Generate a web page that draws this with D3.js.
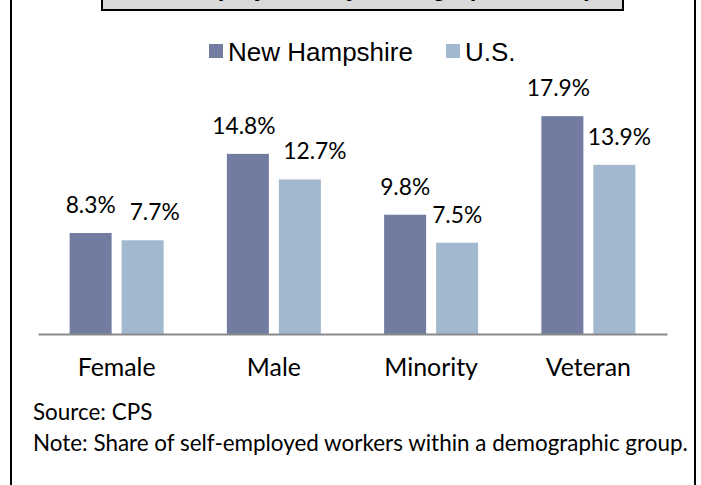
<!DOCTYPE html>
<html>
<head>
<meta charset="utf-8">
<script src="https://cdn.jsdelivr.net/npm/d3@7"></script>
<style>
  html, body { margin: 0; padding: 0; background: #fff; }
  svg { display: block; }
</style>
</head>
<body>
<svg id="chart" width="701" height="485"></svg>
<script>
// ---- data ----
const categories = ["Female", "Male", "Minority", "Veteran"];
const seriesNames = ["New Hampshire", "U.S."];
const newHampshire = [8.3, 14.8, 9.8, 17.9];
const us = [7.7, 12.7, 7.5, 13.9];
const titleText = "Self-Employment by Demographic Group";
const sourceText = "Source: CPS";
const noteText = "Note: Share of self-employed workers within a demographic group.";

// ---- layout ----
const W = 701, H = 485;
const colors = { "New Hampshire": "#727ba0", "U.S.": "#a2b8ce" };
const bodyFont = "Lato, 'Open Sans', sans-serif";
const legendFont = "'Liberation Sans', Arial, sans-serif";
// hand-placed label nudges (px) as in the original, per category: [NH, US]
const labelNudge = [[0, 12], [-4, 15], [0, 0], [-4, 5]];

const svg = d3.select("#chart");

function fitWidth(sel, target) {
  const fs = parseFloat(sel.attr("font-size"));
  const w = sel.node().getComputedTextLength();
  sel.attr("font-size", (fs * target / w).toFixed(2));
  return fs * target / w;
}

// outer frame
svg.append("rect")
  .attr("x", 11).attr("y", -20).attr("width", 684).attr("height", 530)
  .attr("fill", "#fff").attr("stroke", "#000").attr("stroke-width", 2);

// title box (mostly above the visible area)
svg.append("rect")
  .attr("x", 102).attr("y", -40).attr("width", 521).attr("height", 50)
  .attr("fill", "#d9d9d9").attr("stroke", "#000").attr("stroke-width", 2);
svg.append("text")
  .attr("x", 363).attr("y", -4)
  .attr("text-anchor", "middle")
  .attr("font-family", legendFont).attr("font-weight", "bold")
  .attr("font-size", 24).attr("fill", "#000")
  .text(titleText);

// scales
const axisY = 334;
const x0 = d3.scaleBand().domain(categories).range([38, 667]).padding(0);
const groupW = 94;
const x1 = d3.scaleBand().domain(seriesNames).range([0, groupW]).paddingInner(10 / 52).paddingOuter(0);
const y = d3.scaleLinear().domain([0, 20]).range([axisY, axisY - 243.4]);

const rows = categories.map((c, i) => ({
  cat: c,
  vals: [
    { s: "New Hampshire", v: newHampshire[i], dx: labelNudge[i][0] },
    { s: "U.S.", v: us[i], dx: labelNudge[i][1] }
  ]
}));

const groups = svg.append("g").selectAll("g")
  .data(rows).join("g")
  .attr("transform", d => `translate(${x0(d.cat) + (x0.bandwidth() - groupW) / 2},0)`);

groups.selectAll("rect")
  .data(d => d.vals).join("rect")
  .attr("x", d => x1(d.s))
  .attr("y", d => y(d.v))
  .attr("width", x1.bandwidth())
  .attr("height", d => axisY - y(d.v))
  .attr("fill", d => colors[d.s]);

const valLabels = groups.selectAll("text.val")
  .data(d => d.vals).join("text")
  .attr("class", "val")
  .attr("x", d => x1(d.s) + x1.bandwidth() / 2 + d.dx)
  .attr("y", d => y(d.v) - 20)
  .attr("text-anchor", "middle")
  .attr("font-family", bodyFont)
  .attr("font-size", 22)
  .attr("fill", "#000")
  .text(d => d.v.toFixed(1) + "%");
const vfs = fitWidth(d3.select(valLabels.nodes()[0]), 50);
valLabels.attr("font-size", vfs.toFixed(2));

// axis
const axis = svg.append("g")
  .attr("transform", `translate(0,${axisY})`)
  .call(d3.axisBottom(x0).tickSize(0).tickSizeOuter(0).tickPadding(0));
axis.select(".domain").attr("stroke", "#8a8a8a").attr("stroke-width", 2);
const catText = axis.selectAll(".tick text")
  .attr("y", 42).attr("dy", 0)
  .attr("font-family", bodyFont)
  .attr("font-size", 23)
  .attr("fill", "#000");
const cfs = fitWidth(d3.select(catText.nodes()[0]), 78);
catText.attr("font-size", cfs.toFixed(2));

// legend
const legendItems = [
  { s: "New Hampshire", x: 209 },
  { s: "U.S.", x: 446 }
];
const lg = svg.append("g").selectAll("g").data(legendItems).join("g")
  .attr("transform", d => `translate(${d.x},0)`);
lg.append("rect")
  .attr("x", 0).attr("y", 44).attr("width", 14).attr("height", 14)
  .attr("fill", d => colors[d.s]);
const lgText = lg.append("text")
  .attr("x", 19).attr("y", 61)
  .attr("font-family", legendFont)
  .attr("font-size", 26)
  .attr("fill", "#000")
  .text(d => d.s);
const lfs = fitWidth(d3.select(lgText.nodes()[0]), 185);
lgText.attr("font-size", lfs.toFixed(2));

// source / note
const src = svg.append("text")
  .attr("x", 33).attr("y", 420)
  .attr("font-family", bodyFont).attr("font-size", 19).attr("fill", "#000")
  .text(sourceText);
const note = svg.append("text")
  .attr("x", 33).attr("y", 451)
  .attr("font-family", bodyFont).attr("font-size", 19).attr("fill", "#000")
  .text(noteText);
const nfs = fitWidth(note, 655);
src.attr("font-size", nfs.toFixed(2));
</script>
</body>
</html>
